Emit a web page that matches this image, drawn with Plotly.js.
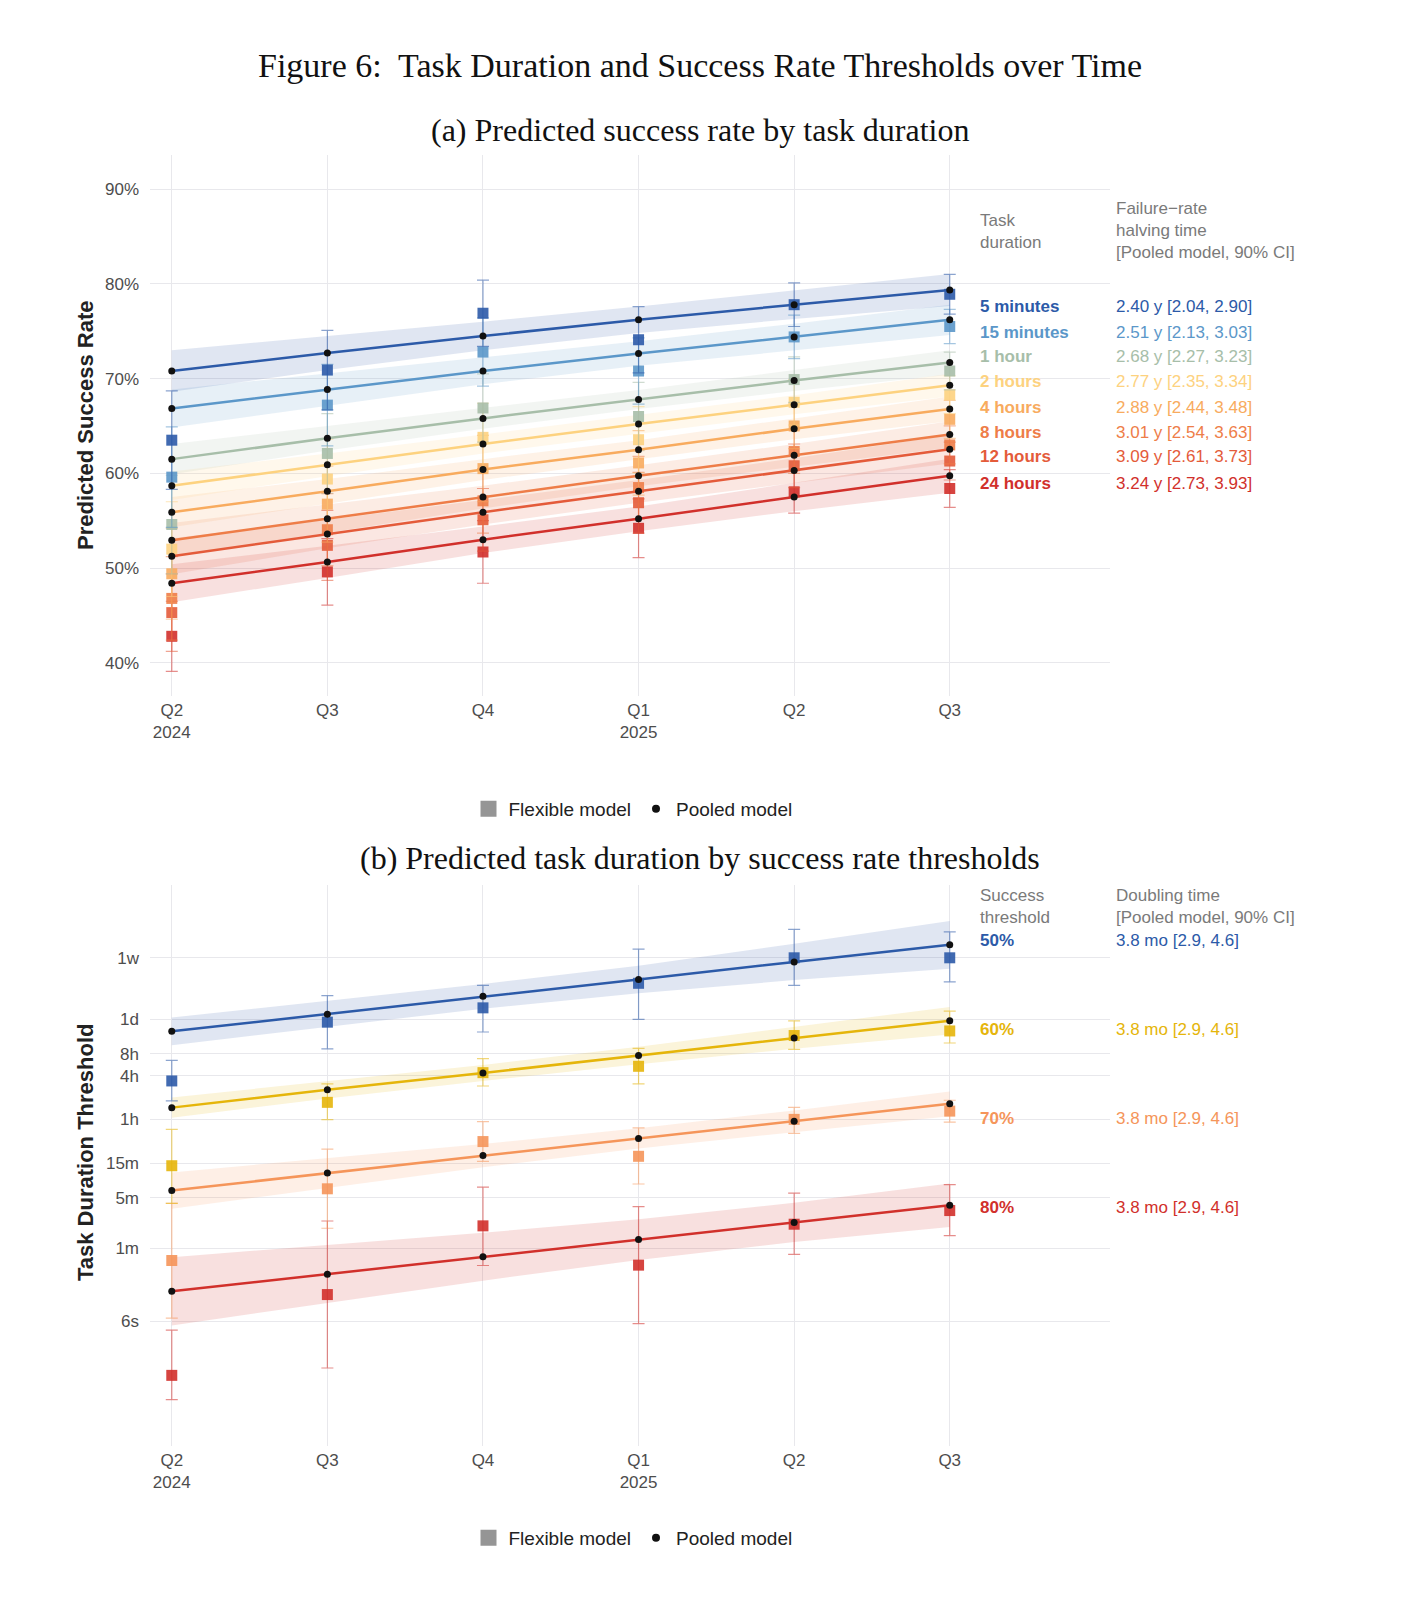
<!DOCTYPE html>
<html>
<head>
<meta charset="utf-8">
<script src="https://cdn.plot.ly/plotly-3.0.1.min.js"></script>
<style>
  body { margin: 0; background: #fff; }
  #myDiv { width: 1406px; height: 1598px; }
</style>
</head>
<body>
<div id="myDiv"></div>
<script>
// quarters on the x axis (Q2 2024 .. Q3 2025)
var quarters = [0, 1, 2, 3, 4, 5];
var quarterLabels = ['Q2<br>2024', 'Q3', 'Q4', 'Q1<br>2025', 'Q2', 'Q3'];

// ---- panel (a): success rate (%) by task duration ----
var durations = ['5 minutes', '15 minutes', '1 hour', '2 hours', '4 hours', '8 hours', '12 hours', '24 hours'];
var halvingTimes = ['2.40 y [2.04, 2.90]', '2.51 y [2.13, 3.03]', '2.68 y [2.27, 3.23]', '2.77 y [2.35, 3.34]',
                    '2.88 y [2.44, 3.48]', '3.01 y [2.54, 3.63]', '3.09 y [2.61, 3.73]', '3.24 y [2.73, 3.93]'];
var durationColors = ['#2c5aa8', '#5b97c9', '#a7bea9', '#fdd27f', '#f8ab5e', '#ee7d48', '#e45b3a', '#d1302b'];

var rateTickVals = [40, 50, 60, 70, 80, 90];
var rateTickText = ['40%', '50%', '60%', '70%', '80%', '90%'];

// pooled model (line + black dots)
var pooled5m  = [70.8, 72.7, 74.5, 76.2, 77.8, 79.35];
var pooled15m = [66.85, 68.85, 70.8, 72.65, 74.4, 76.2];
var pooled1h  = [61.5, 63.7, 65.8, 67.8, 69.8, 71.7];
var pooled2h  = [58.7, 60.9, 63.1, 65.2, 67.25, 69.3];
var pooled4h  = [55.9, 58.1, 60.4, 62.5, 64.7, 66.8];
var pooled8h  = [52.95, 55.2, 57.5, 59.75, 61.9, 64.1];
var pooled12h = [51.25, 53.6, 55.9, 58.1, 60.3, 62.55];
var pooled24h = [48.4, 50.65, 53.0, 55.2, 57.5, 59.75];

// pooled model 90% CI band
var bandLo5m  = [68.6, 70.9, 73.0, 74.8, 76.3, 77.65];
var bandHi5m  = [73.0, 74.5, 76.0, 77.6, 79.3, 81.05];
var bandLo15m = [64.85, 67.15, 69.4, 71.35, 73.0, 74.6];
var bandHi15m = [68.85, 70.55, 72.2, 73.95, 75.8, 77.8];
var bandLo1h  = [59.9, 62.4, 64.7, 66.8, 68.7, 70.4];
var bandHi1h  = [63.1, 65.0, 66.9, 68.8, 70.9, 73.0];
var bandLo2h  = [57.2, 59.7, 62.1, 64.2, 66.25, 68.1];
var bandHi2h  = [60.2, 62.1, 64.1, 66.2, 68.25, 70.5];
var bandLo4h  = [54.3, 56.8, 59.3, 61.5, 63.6, 65.5];
var bandHi4h  = [57.5, 59.4, 61.5, 63.5, 65.8, 68.1];
var bandLo8h  = [51.15, 53.7, 56.3, 58.65, 60.7, 62.7];
var bandHi8h  = [54.75, 56.7, 58.7, 60.85, 63.1, 65.5];
var bandLo12h = [49.35, 52.1, 54.6, 56.9, 59.0, 61.05];
var bandHi12h = [53.15, 55.1, 57.2, 59.3, 61.6, 64.05];
var bandLo24h = [46.4, 48.95, 51.6, 53.9, 56.0, 57.95];
var bandHi24h = [50.4, 52.35, 54.4, 56.5, 59.0, 61.55];

// flexible model (squares) and error half-widths
var flex5m  = [63.5, 70.9, 76.9, 74.1, 77.8, 78.9];
var flex15m = [59.6, 67.2, 72.8, 70.8, 74.4, 75.5];
var flex1h  = [54.6, 62.1, 66.9, 66.0, 69.9, 70.8];
var flex2h  = [52.0, 59.4, 63.8, 63.55, 67.5, 68.3];
var flex4h  = [49.4, 56.75, 60.5, 61.1, 65.0, 65.7];
var flex8h  = [46.8, 54.05, 57.1, 58.5, 62.3, 63.0];
var flex12h = [45.3, 52.4, 55.1, 56.9, 60.8, 61.3];
var flex24h = [42.8, 49.6, 51.7, 54.2, 58.05, 58.4];

var err5m  = [5.2, 4.2, 3.5, 3.5, 2.3, 2.1];
var err15m = [5.3, 4.3, 3.6, 3.5, 2.3, 1.8];
var err1h  = [5.2, 4.2, 3.6, 3.6, 2.4, 2.0];
var err2h  = [5.0, 4.2, 3.6, 3.5, 2.4, 2.0];
var err4h  = [4.8, 4.0, 3.5, 3.4, 2.4, 2.0];
var err8h  = [4.4, 3.8, 3.4, 3.3, 2.3, 2.0];
var err12h = [4.1, 3.7, 3.3, 3.2, 2.3, 2.0];
var err24h = [3.7, 3.5, 3.3, 3.1, 2.25, 2.0];

// ---- panel (b): task duration (minutes) by success threshold ----
var thresholds = ['50%', '60%', '70%', '80%'];
var doublingTimes = ['3.8 mo [2.9, 4.6]', '3.8 mo [2.9, 4.6]', '3.8 mo [2.9, 4.6]', '3.8 mo [2.9, 4.6]'];
var thresholdColors = ['#2c5aa8', '#e5b50a', '#f5955a', '#d1302b'];

var durTickVals = [0.1, 1, 5, 15, 60, 240, 480, 1440, 10080];
var durTickText = ['6s', '1m', '5m', '15m', '1h', '4h', '8h', '1d', '1w'];

var pooled50 = [979.5, 1687, 2972, 5070, 8831, 15205];
var pooled60 = [87.1, 153.5, 261.8, 456.0, 794.3, 1368];
var pooled70 = [6.28, 10.94, 19.05, 32.81, 56.49, 98.4];
var pooled80 = [0.257, 0.443, 0.771, 1.327, 2.286, 3.936];

var bandLo50 = [632, 1114, 2009, 3273, 4966, 7112];
var bandHi50 = [1517, 2553, 4395, 7852, 15700, 32500];
var bandLo60 = [63.1, 116.4, 203.2, 346, 562, 883];
var bandHi60 = [120.2, 202.3, 337.3, 601, 1122, 2118];
var bandLo70 = [3.53, 6.90, 13.18, 23.8, 40.0, 66.5];
var bandHi70 = [11.17, 17.34, 27.54, 45.3, 79.8, 145.5];
var bandLo80 = [0.0871, 0.1762, 0.3606, 0.697, 1.227, 1.972];
var bandHi80 = [0.759, 1.112, 1.648, 2.529, 4.256, 7.85];

var flex50 = [203, 1309, 2061, 4490, 10080, 10080];
var flexLo50 = [107.7, 562, 959, 1430, 4200, 4690];
var flexHi50 = [390, 3040, 4200, 13300, 24800, 22900];
var flex60 = [13.8, 103, 264, 323, 857, 991];
var flexLo60 = [4.17, 59.7, 173, 185, 551, 676];
var flexHi60 = [43.8, 185, 412, 569, 1368, 1855];
var flex70 = [0.683, 6.64, 29.7, 18.6, 60, 78];
var flexLo70 = [0.11, 1.9, 15.8, 7.73, 38.4, 55];
var flexHi70 = [4.2, 23.3, 56, 45.7, 88, 110];
var flex80 = [0.0179, 0.232, 2.05, 0.59, 2.16, 3.33];
var flexLo80 = [0.0083, 0.0226, 0.583, 0.0925, 0.83, 1.5];
var flexHi80 = [0.075, 2.39, 7.0, 3.77, 5.8, 7.6];

// ---------------------------------------------------------------
var W = 1406, H = 1598;
function px(x){ return x / W; }
function py(y){ return 1 - y / H; }

function rgba(hex, a){
    var r = parseInt(hex.substr(1, 2), 16);
    var g = parseInt(hex.substr(3, 2), 16);
    var b = parseInt(hex.substr(5, 2), 16);
    return 'rgba(' + r + ',' + g + ',' + b + ',' + a + ')';
}

var bandTraces = [], flexTraces = [], pooledTraces = [];

function addSeries(ax, color, pooled, lo, hi, flex, errPlus, errMinus){
    bandTraces.push({
        x: quarters.concat(quarters.slice().reverse()),
        y: hi.concat(lo.slice().reverse()),
        xaxis: 'x' + ax, yaxis: 'y' + ax,
        type: 'scatter', mode: 'lines', fill: 'toself',
        fillcolor: rgba(color, 0.15), line: {width: 0},
        hoverinfo: 'skip', showlegend: false
    });
    flexTraces.push({
        x: quarters, y: flex,
        xaxis: 'x' + ax, yaxis: 'y' + ax,
        type: 'scatter', mode: 'markers',
        marker: {symbol: 'square', size: 11, color: rgba(color, 0.9)},
        error_y: {type: 'data', symmetric: false, array: errPlus, arrayminus: errMinus,
                  color: rgba(color, 0.55), thickness: 1.2, width: 6},
        showlegend: false
    });
    pooledTraces.push({
        x: quarters, y: pooled,
        xaxis: 'x' + ax, yaxis: 'y' + ax,
        type: 'scatter', mode: 'lines+markers',
        line: {color: color, width: 2.5},
        marker: {color: '#111', size: 7},
        showlegend: false
    });
}

// panel (a) series
var topPooled = [pooled5m, pooled15m, pooled1h, pooled2h, pooled4h, pooled8h, pooled12h, pooled24h];
var topLo = [bandLo5m, bandLo15m, bandLo1h, bandLo2h, bandLo4h, bandLo8h, bandLo12h, bandLo24h];
var topHi = [bandHi5m, bandHi15m, bandHi1h, bandHi2h, bandHi4h, bandHi8h, bandHi12h, bandHi24h];
var topFlex = [flex5m, flex15m, flex1h, flex2h, flex4h, flex8h, flex12h, flex24h];
var topErr = [err5m, err15m, err1h, err2h, err4h, err8h, err12h, err24h];
for (let i = topPooled.length - 1; i >= 0; i--){
    addSeries('', durationColors[i], topPooled[i], topLo[i], topHi[i], topFlex[i], topErr[i], topErr[i]);
}

// panel (b) series, error bars asymmetric on the log scale
var botPooled = [pooled50, pooled60, pooled70, pooled80];
var botLo = [bandLo50, bandLo60, bandLo70, bandLo80];
var botHi = [bandHi50, bandHi60, bandHi70, bandHi80];
var botFlex = [flex50, flex60, flex70, flex80];
var botFlexLo = [flexLo50, flexLo60, flexLo70, flexLo80];
var botFlexHi = [flexHi50, flexHi60, flexHi70, flexHi80];
for (let i = botPooled.length - 1; i >= 0; i--){
    let plus = botFlex[i].map(function(v, k){ return botFlexHi[i][k] - v; });
    let minus = botFlex[i].map(function(v, k){ return v - botFlexLo[i][k]; });
    addSeries('2', thresholdColors[i], botPooled[i], botLo[i], botHi[i], botFlex[i], plus, minus);
}

// legend-only entries
var legendTraces = [
    {x: [null], y: [null], type: 'scatter', mode: 'markers', name: 'Flexible model',
     marker: {symbol: 'square', size: 16, color: '#959595'}, legend: 'legend'},
    {x: [null], y: [null], type: 'scatter', mode: 'markers', name: 'Pooled model',
     marker: {size: 8, color: '#111'}, legend: 'legend'},
    {x: [null], y: [null], xaxis: 'x2', yaxis: 'y2', type: 'scatter', mode: 'markers', name: 'Flexible model',
     marker: {symbol: 'square', size: 16, color: '#959595'}, legend: 'legend2'},
    {x: [null], y: [null], xaxis: 'x2', yaxis: 'y2', type: 'scatter', mode: 'markers', name: 'Pooled model',
     marker: {size: 8, color: '#111'}, legend: 'legend2'}
];

var data = bandTraces.concat(flexTraces, pooledTraces, legendTraces);

var sans = 'Liberation Sans, Arial, sans-serif';
var serif = 'Liberation Serif, Times New Roman, serif';
var gridColor = '#e8e8ec';
var tickFont = {family: sans, size: 17, color: '#4d4d4d'};

var xCommon = {
    domain: [px(150), px(1110)], range: [-0.14, 6.03],
    tickvals: quarters, ticktext: quarterLabels, tickfont: tickFont,
    showgrid: true, gridcolor: gridColor, zeroline: false, showline: false, ticks: '',
    ticklabelstandoff: 2
};

var annotations = [];
function note(text, x, y, size, color, extra){
    var a = {text: text, x: px(x), y: py(y), xref: 'paper', yref: 'paper',
             xanchor: 'left', yanchor: 'middle', align: 'left', showarrow: false,
             font: {family: sans, size: size, color: color}};
    for (var k in extra) a[k] = extra[k];
    annotations.push(a);
}

// subtitles and axis titles
note('(a) Predicted success rate by task duration', 700, 130, 32, '#111', {xanchor: 'center', font: {family: serif, size: 32, color: '#111'}});
note('(b) Predicted task duration by success rate thresholds', 700, 858, 32, '#111', {xanchor: 'center', font: {family: serif, size: 32, color: '#111'}});
note('<b>Predicted Success Rate</b>', 85, 426, 22, '#222', {xanchor: 'center', textangle: -90});
note('<b>Task Duration Threshold</b>', 85, 1152, 22, '#222', {xanchor: 'center', textangle: -90});

// right side labels, panel (a)
note('Task<br>duration', 978, 231, 17, '#7a7a7a', {});
note('Failure\u2212rate<br>halving time<br>[Pooled model, 90% CI]', 1114, 230, 17, '#7a7a7a', {});
var topRows = [307, 332, 357, 382, 407, 432, 457, 483];
for (let i = 0; i < durations.length; i++){
    note('<b>' + durations[i] + '</b>', 978, topRows[i], 17, durationColors[i], {});
    note(halvingTimes[i], 1114, topRows[i], 17, durationColors[i], {});
}

// right side labels, panel (b)
note('Success<br>threshold', 978, 906, 17, '#7a7a7a', {});
note('Doubling time<br>[Pooled model, 90% CI]', 1114, 906, 17, '#7a7a7a', {});
var botRows = [940, 1029, 1118, 1207];
for (let i = 0; i < thresholds.length; i++){
    note('<b>' + thresholds[i] + '</b>', 978, botRows[i], 17, thresholdColors[i], {});
    note(doublingTimes[i], 1114, botRows[i], 17, thresholdColors[i], {});
}

var legendCommon = {
    orientation: 'h', xanchor: 'center', yanchor: 'middle', x: px(633),
    font: {family: sans, size: 19, color: '#222'}, bgcolor: 'rgba(0,0,0,0)'
};

var layout = {
    width: W, height: H,
    margin: {l: 0, r: 0, t: 0, b: 0},
    paper_bgcolor: '#fff', plot_bgcolor: '#fff',
    title: {text: 'Figure 6:  Task Duration and Success Rate Thresholds over Time',
            x: 700 / W, xref: 'container', xanchor: 'center',
            y: py(65), yref: 'container', yanchor: 'middle',
            font: {family: serif, size: 34, color: '#111'}},
    xaxis: Object.assign({}, xCommon, {anchor: 'y'}),
    yaxis: {domain: [py(696), py(155)], range: [36.5, 93.6],
            tickvals: rateTickVals, ticktext: rateTickText, tickfont: tickFont,
            showgrid: true, gridcolor: gridColor, zeroline: false, showline: false, ticks: '',
            ticklabelstandoff: 10},
    xaxis2: Object.assign({}, xCommon, {anchor: 'y2'}),
    yaxis2: {domain: [py(1446), py(885)], type: 'log', range: [-2.72, 5.006],
             tickvals: durTickVals, ticktext: durTickText, tickfont: tickFont,
             showgrid: true, gridcolor: gridColor, zeroline: false, showline: false, ticks: '',
             ticklabelstandoff: 10},
    legend: Object.assign({}, legendCommon, {y: py(809)}),
    legend2: Object.assign({}, legendCommon, {y: py(1538)}),
    annotations: annotations,
    hovermode: false
};

Plotly.newPlot('myDiv', data, layout, {displayModeBar: false});
</script>
</body>
</html>
